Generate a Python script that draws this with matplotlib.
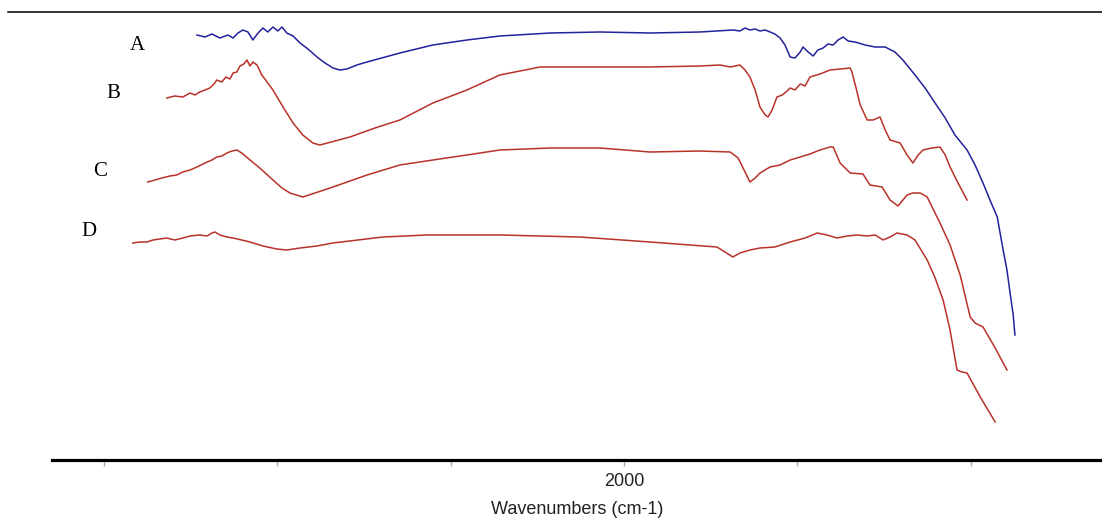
import matplotlib.pyplot as plt
from matplotlib.lines import Line2D

# wavenumber (cm-1) and offset transmittance (a.u.)
wn_a = [3231, 3208, 3188, 3165, 3142, 3127, 3113, 3099, 3084, 3070,
        3055, 3041, 3027, 3012, 2998, 2986, 2972, 2954, 2934, 2911,
        2885, 2862, 2839, 2819, 2799, 2770, 2741, 2646, 2551, 2453,
        2358, 2213, 2069, 1925, 1781, 1686, 1666, 1651, 1637, 1622,
        1608, 1593, 1579, 1565, 1550, 1536, 1521, 1507, 1492, 1484,
        1469, 1455, 1441, 1426, 1412, 1397, 1383, 1368, 1354, 1334,
        1305, 1276, 1247, 1219, 1196, 1161, 1132, 1109, 1074, 1046,
        1011, 988, 965, 945, 924, 907, 896, 887, 878, 873]
t_a = [42.5, 42.3, 42.6, 42.2, 42.5, 42.2, 42.7, 43.0, 42.8, 42.0,
       42.7, 43.2, 42.8, 43.3, 42.9, 43.3, 42.7, 42.4, 41.7, 41.1,
       40.3, 39.7, 39.2, 39.0, 39.1, 39.5, 39.8, 40.7, 41.5, 42.0,
       42.4, 42.7, 42.8, 42.7, 42.8, 43.0, 42.9, 43.2, 43.0, 43.1,
       42.9, 43.0, 42.8, 42.6, 42.2, 41.5, 40.3, 40.2, 40.8, 41.3,
       40.8, 40.4, 41.0, 41.2, 41.6, 41.5, 42.0, 42.3, 41.9, 41.8,
       41.5, 41.3, 41.3, 40.8, 40.0, 38.5, 37.2, 36.0, 34.2, 32.5,
       31.0, 29.5, 27.7, 26.0, 24.3, 21.0, 19.0, 16.7, 14.5, 12.5]

wn_b = [3318, 3295, 3272, 3251, 3237, 3223, 3208, 3194, 3182, 3174,
        3159, 3148, 3136, 3127, 3116, 3107, 3096, 3087, 3078, 3070,
        3058, 3044, 3029, 3012, 2983, 2954, 2926, 2897, 2877, 2833,
        2790, 2718, 2646, 2551, 2453, 2358, 2242, 2069, 1925, 1781,
        1723, 1694, 1666, 1651, 1637, 1622, 1608, 1593, 1585, 1573,
        1559, 1544, 1533, 1521, 1507, 1492, 1478, 1464, 1435, 1406,
        1377, 1348, 1343, 1331, 1319, 1299, 1282, 1262, 1247, 1233,
        1204, 1184, 1167, 1152, 1138, 1112, 1089, 1074, 1060, 1037,
        1011]
t_b = [36.2, 36.4, 36.3, 36.7, 36.5, 36.8, 37.0, 37.2, 37.6, 38.0,
       37.8, 38.3, 38.1, 38.7, 38.8, 39.4, 39.6, 40.0, 39.4, 39.8,
       39.5, 38.5, 37.8, 37.0, 35.3, 33.7, 32.5, 31.7, 31.5, 31.9,
       32.3, 33.2, 34.0, 35.7, 37.0, 38.5, 39.3, 39.3, 39.3, 39.4,
       39.5, 39.3, 39.5, 39.0, 38.3, 37.0, 35.3, 34.5, 34.3, 35.0,
       36.3, 36.5, 36.8, 37.2, 37.0, 37.6, 37.4, 38.3, 38.6, 39.0,
       39.1, 39.2, 38.8, 37.2, 35.5, 34.0, 34.0, 34.3, 33.0, 32.0,
       31.7, 30.5, 29.7, 30.5, 31.0, 31.2, 31.3, 30.5, 29.3, 27.7,
       26.0]

wn_c = [3373, 3352, 3332, 3309, 3289, 3272, 3251, 3231, 3208, 3188,
        3174, 3159, 3145, 3130, 3116, 3102, 3078, 3050, 3012, 2986,
        2963, 2926, 2882, 2839, 2741, 2646, 2551, 2453, 2358, 2213,
        2069, 1925, 1781, 1694, 1671, 1651, 1637, 1622, 1608, 1579,
        1550, 1521, 1492, 1464, 1435, 1406, 1397, 1377, 1348, 1311,
        1291, 1256, 1233, 1210, 1184, 1167, 1146, 1126, 1089, 1060,
        1031, 1002, 988, 965, 930, 896]
t_c = [27.8, 28.0, 28.2, 28.4, 28.5, 28.8, 29.0, 29.3, 29.7, 30.0,
       30.3, 30.4, 30.7, 30.9, 31.0, 30.7, 30.0, 29.2, 28.0, 27.2,
       26.7, 26.3, 26.8, 27.3, 28.5, 29.5, 30.0, 30.5, 31.0, 31.2,
       31.2, 30.8, 30.9, 30.8, 30.2, 28.8, 27.8, 28.2, 28.7, 29.3,
       29.5, 30.0, 30.3, 30.6, 31.0, 31.3, 31.3, 29.7, 28.7, 28.6,
       27.5, 27.3, 26.0, 25.4, 26.5, 26.7, 26.7, 26.3, 23.7, 21.5,
       18.5, 14.3, 13.7, 13.3, 11.2, 9.0]

wn_d = [3416, 3396, 3375, 3358, 3338, 3318, 3295, 3272, 3251, 3223,
        3202, 3188, 3179, 3165, 3145, 3127, 3102, 3078, 3041, 3001,
        2972, 2934, 2885, 2839, 2767, 2695, 2568, 2358, 2127, 1925,
        1810, 1732, 1709, 1686, 1666, 1637, 1608, 1565, 1521, 1478,
        1443, 1415, 1386, 1357, 1328, 1299, 1276, 1253, 1233, 1213,
        1184, 1161, 1126, 1103, 1080, 1060, 1040, 1025, 1011, 973,
        930]
t_d = [21.7, 21.8, 21.8, 22.0, 22.1, 22.2, 22.0, 22.2, 22.4, 22.5,
       22.4, 22.7, 22.8, 22.5, 22.3, 22.2, 22.0, 21.8, 21.4, 21.1,
       21.0, 21.2, 21.4, 21.7, 22.0, 22.3, 22.5, 22.5, 22.3, 21.8,
       21.5, 21.3, 20.8, 20.3, 20.7, 21.0, 21.2, 21.3, 21.8, 22.2,
       22.7, 22.5, 22.2, 22.4, 22.5, 22.4, 22.5, 22.0, 22.3, 22.7,
       22.5, 22.0, 20.0, 18.2, 16.0, 13.0, 9.0, 8.8, 8.7, 6.3,
       3.8]

names = ['A', 'B', 'C', 'D']
tick_values = [3500, 3000, 2500, 2000, 1500, 1000]
tick_labels = ['', '', '', '2000', '', '']

fig = plt.figure(figsize=(11.02, 5.22), dpi=100)
ax = fig.add_axes([52 / 1102, 62 / 522, 1050 / 1102, 448 / 522])

blue = '#22229c'
red = '#b83228'
ax.plot(wn_a, t_a, color=blue, lw=1.1)
ax.plot(wn_b, t_b, color=red, lw=1.1)
ax.plot(wn_c, t_c, color=red, lw=1.1)
ax.plot(wn_d, t_d, color=red, lw=1.1)

ax.set_xlim(3649, 622)
ax.set_ylim(0, 44.8)

for side in ['top', 'left', 'right']:
    ax.spines[side].set_visible(False)
ax.spines['bottom'].set_linewidth(2.3)
ax.spines['bottom'].set_color('black')

ax.set_yticks([])
ax.set_xticks(tick_values)
ax.set_xticklabels(tick_labels, fontsize=13, family='Liberation Sans', color='#222222')
ax.tick_params(axis='x', direction='out', length=4, width=1, color='#aaaaaa', pad=5)
ax.set_xlabel('Wavenumbers (cm-1)', fontsize=13, family='Liberation Sans',
              color='#222222', labelpad=8)

# curve labels
label_pos = [(137, 45), (113, 93), (100, 172), (89, 232)]
for name, (px, py) in zip(names, label_pos):
    fig.text(px / 1102, 1 - py / 522, name, fontsize=15, family='Liberation Serif',
             ha='center', va='center')

# frame line along the top
fig.add_artist(Line2D([8 / 1102, 1.0], [1 - 12 / 522, 1 - 12 / 522],
                      transform=fig.transFigure, color='black', lw=1.1))

fig.savefig('out.png', dpi=100)
